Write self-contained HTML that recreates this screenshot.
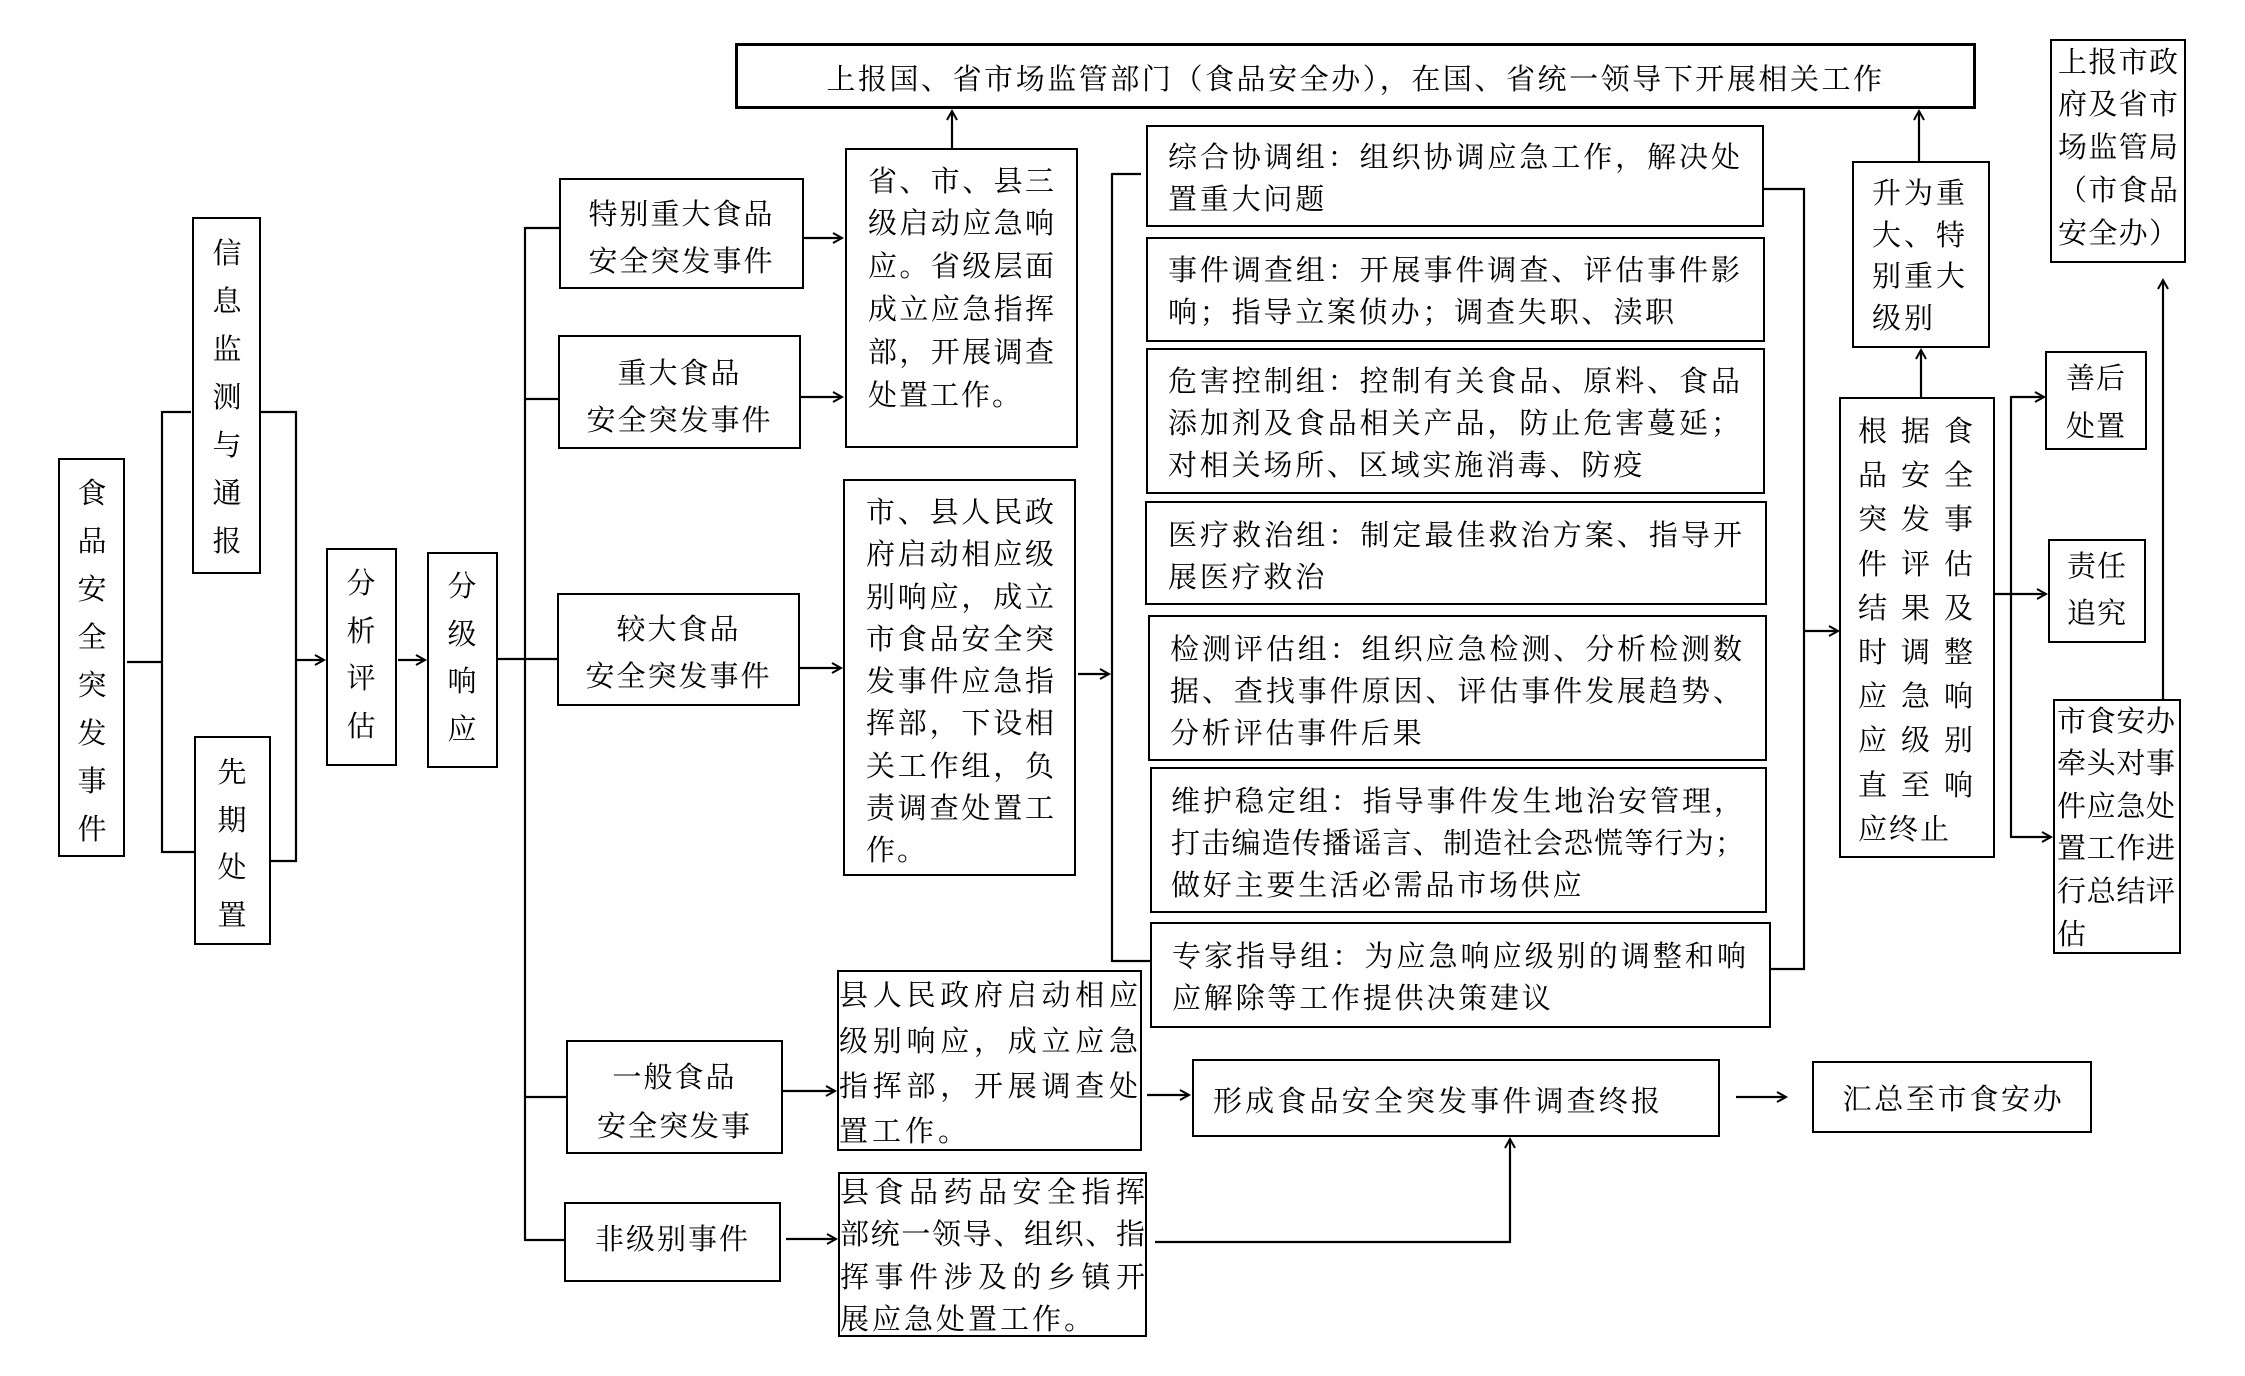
<!DOCTYPE html>
<html><head><meta charset="utf-8">
<style>
html,body{margin:0;padding:0;background:#fff;}
#c{position:relative;width:2245px;height:1376px;overflow:hidden;background:#fff;}
.b{position:absolute;box-sizing:border-box;border:2.5px solid #000;}
.t{position:absolute;font-family:"Liberation Serif","Noto Serif CJK SC","Noto Sans CJK SC",serif;font-size:29px;color:#000;white-space:nowrap;}
.t div{height:auto;}
.j{text-align:justify;text-align-last:justify;}
.v{text-align:center;width:44px;line-height:48px;}
.cn{text-align:center;}
svg{position:absolute;left:0;top:0;}
</style></head><body><div id="c">

<svg width="2245" height="1376" viewBox="0 0 2245 1376">
<defs>
<marker id="a" markerWidth="14" markerHeight="14" refX="11" refY="7" orient="auto" markerUnits="userSpaceOnUse">
<path d="M2,2 L11,7 L2,12" fill="none" stroke="#000" stroke-width="2"/>
</marker>
</defs>
<g stroke="#000" stroke-width="2.2" fill="none">
<line x1="127" y1="662" x2="162" y2="662"/>
<line x1="162" y1="411" x2="162" y2="853"/>
<line x1="162" y1="412" x2="191" y2="412"/>
<line x1="162" y1="852" x2="194" y2="852"/>
<line x1="261" y1="412" x2="297" y2="412"/>
<line x1="271" y1="861" x2="297" y2="861"/>
<line x1="296" y1="411" x2="296" y2="862"/>
<line x1="296" y1="660" x2="324" y2="660" marker-end="url(#a)"/>
<line x1="398" y1="660" x2="425" y2="660" marker-end="url(#a)"/>
<line x1="498" y1="659" x2="525" y2="659"/>
<line x1="525" y1="227" x2="525" y2="1241"/>
<line x1="525" y1="228" x2="559" y2="228"/>
<line x1="525" y1="399" x2="558" y2="399"/>
<line x1="525" y1="659" x2="557" y2="659"/>
<line x1="525" y1="1097" x2="566" y2="1097"/>
<line x1="525" y1="1240" x2="564" y2="1240"/>
<line x1="804" y1="238" x2="842" y2="238" marker-end="url(#a)"/>
<line x1="801" y1="397" x2="842" y2="397" marker-end="url(#a)"/>
<line x1="800" y1="668" x2="841" y2="668" marker-end="url(#a)"/>
<line x1="783" y1="1091" x2="835" y2="1091" marker-end="url(#a)"/>
<line x1="786" y1="1239" x2="836" y2="1239" marker-end="url(#a)"/>
<line x1="952" y1="148" x2="952" y2="111" marker-end="url(#a)"/>
<line x1="1078" y1="674" x2="1109" y2="674" marker-end="url(#a)"/>
<line x1="1112" y1="173" x2="1112" y2="962"/>
<line x1="1112" y1="174" x2="1141" y2="174"/>
<line x1="1112" y1="961" x2="1150" y2="961"/>
<line x1="1764" y1="189" x2="1805" y2="189"/>
<line x1="1804" y1="188" x2="1804" y2="970"/>
<line x1="1771" y1="969" x2="1805" y2="969"/>
<line x1="1804" y1="631" x2="1838" y2="631" marker-end="url(#a)"/>
<line x1="1921" y1="397" x2="1921" y2="350" marker-end="url(#a)"/>
<line x1="1919" y1="161" x2="1919" y2="111" marker-end="url(#a)"/>
<line x1="2011" y1="396" x2="2011" y2="838"/>
<line x1="2011" y1="397" x2="2044" y2="397" marker-end="url(#a)"/>
<line x1="1995" y1="594" x2="2046" y2="594" marker-end="url(#a)"/>
<line x1="2011" y1="837" x2="2051" y2="837" marker-end="url(#a)"/>
<line x1="2163" y1="699" x2="2163" y2="280" marker-end="url(#a)"/>
<line x1="1147" y1="1095" x2="1189" y2="1095" marker-end="url(#a)"/>
<line x1="1736" y1="1097" x2="1786" y2="1097" marker-end="url(#a)"/>
<line x1="1155" y1="1242" x2="1511" y2="1242"/>
<line x1="1510" y1="1243" x2="1510" y2="1139" marker-end="url(#a)"/>
</g>
</svg>

<!-- boxes -->
<div class="b" style="left:58px;top:458px;width:67px;height:399px;"></div>
<div class="b" style="left:192px;top:217px;width:69px;height:357px;"></div>
<div class="b" style="left:194px;top:736px;width:77px;height:209px;"></div>
<div class="b" style="left:326px;top:548px;width:71px;height:218px;"></div>
<div class="b" style="left:427px;top:552px;width:71px;height:216px;"></div>
<div class="b" style="left:559px;top:178px;width:245px;height:111px;"></div>
<div class="b" style="left:558px;top:335px;width:243px;height:114px;"></div>
<div class="b" style="left:557px;top:593px;width:243px;height:113px;"></div>
<div class="b" style="left:566px;top:1040px;width:217px;height:114px;"></div>
<div class="b" style="left:564px;top:1202px;width:217px;height:80px;"></div>
<div class="b" style="left:845px;top:148px;width:233px;height:300px;"></div>
<div class="b" style="left:843px;top:479px;width:233px;height:397px;"></div>
<div class="b" style="left:837px;top:970px;width:305px;height:181px;"></div>
<div class="b" style="left:838px;top:1172px;width:309px;height:165px;"></div>
<div class="b" style="left:735px;top:43px;width:1241px;height:66px;border-width:3px;"></div>
<div class="b" style="left:1146px;top:125px;width:618px;height:102px;"></div>
<div class="b" style="left:1146px;top:237px;width:619px;height:105px;"></div>
<div class="b" style="left:1146px;top:348px;width:619px;height:146px;"></div>
<div class="b" style="left:1145px;top:501px;width:622px;height:104px;"></div>
<div class="b" style="left:1148px;top:615px;width:619px;height:146px;"></div>
<div class="b" style="left:1150px;top:767px;width:617px;height:146px;"></div>
<div class="b" style="left:1150px;top:922px;width:621px;height:106px;"></div>
<div class="b" style="left:1192px;top:1059px;width:528px;height:78px;"></div>
<div class="b" style="left:1812px;top:1061px;width:280px;height:72px;"></div>
<div class="b" style="left:1852px;top:161px;width:138px;height:187px;"></div>
<div class="b" style="left:1839px;top:397px;width:156px;height:461px;"></div>
<div class="b" style="left:2050px;top:39px;width:136px;height:224px;"></div>
<div class="b" style="left:2045px;top:351px;width:102px;height:99px;"></div>
<div class="b" style="left:2048px;top:539px;width:98px;height:104px;"></div>
<div class="b" style="left:2053px;top:699px;width:128px;height:255px;"></div>

<!-- vertical texts -->
<div class="t v" style="left:70px;top:470px;">食<br>品<br>安<br>全<br>突<br>发<br>事<br>件</div>
<div class="t v" style="left:205px;top:230px;">信<br>息<br>监<br>测<br>与<br>通<br>报</div>
<div class="t v" style="left:210px;top:750px;line-height:47.7px;">先<br>期<br>处<br>置</div>
<div class="t v" style="left:339px;top:561px;line-height:47.7px;">分<br>析<br>评<br>估</div>
<div class="t v" style="left:440px;top:564px;line-height:47.7px;">分<br>级<br>响<br>应</div>

<!-- level boxes -->
<div class="t cn" style="left:559px;top:191.5px;width:245px;line-height:47px;letter-spacing:2px;">特别重大食品<br>安全突发事件</div>
<div class="t cn" style="left:558px;top:350.5px;width:243px;line-height:47px;letter-spacing:2px;">重大食品<br>安全突发事件</div>
<div class="t cn" style="left:557px;top:606.5px;width:243px;line-height:47px;letter-spacing:2px;">较大食品<br>安全突发事件</div>
<div class="t cn" style="left:566px;top:1053.5px;width:217px;line-height:49px;letter-spacing:2px;">一般食品<br>安全突发事</div>
<div class="t cn" style="left:564px;top:1216.5px;width:217px;line-height:47px;letter-spacing:2px;">非级别事件</div>

<!-- response boxes -->
<div class="t" style="left:868px;top:160.6px;width:186px;line-height:42.8px;">
<div class="j">省、市、县三</div>
<div class="j">级启动应急响</div>
<div class="j">应。省级层面</div>
<div class="j">成立应急指挥</div>
<div class="j">部，开展调查</div>
<div style="letter-spacing:2px;">处置工作。</div>
</div>
<div class="t" style="left:866px;top:492px;width:188px;line-height:42.3px;">
<div class="j">市、县人民政</div>
<div class="j">府启动相应级</div>
<div class="j">别响应，成立</div>
<div class="j">市食品安全突</div>
<div class="j">发事件应急指</div>
<div class="j">挥部，下设相</div>
<div class="j">关工作组，负</div>
<div class="j">责调查处置工</div>
<div style="letter-spacing:2px;">作。</div>
</div>
<div class="t" style="left:839px;top:974.4px;width:299px;line-height:45.3px;">
<div class="j">县人民政府启动相应</div>
<div class="j">级别响应，成立应急</div>
<div class="j">指挥部，开展调查处</div>
<div style="letter-spacing:4px;">置工作。</div>
</div>
<div class="t" style="left:840px;top:1172px;width:305px;line-height:42.3px;">
<div class="j">县食品药品安全指挥</div>
<div class="j">部统一领导、组织、指</div>
<div class="j">挥事件涉及的乡镇开</div>
<div style="letter-spacing:3px;">展应急处置工作。</div>
</div>

<!-- top box -->
<div class="t cn" style="left:735px;top:60px;width:1241px;line-height:40px;letter-spacing:2.55px;">上报国、省市场监管部门（食品安全办），在国、省统一领导下开展相关工作</div>

<!-- groups -->
<div class="t" style="left:1168px;top:136.85px;width:572px;line-height:42.3px;">
<div class="j">综合协调组：组织协调应急工作，解决处</div>
<div style="letter-spacing:2.8px;">置重大问题</div>
</div>
<div class="t" style="left:1168px;top:249.85px;width:572px;line-height:42.3px;">
<div class="j">事件调查组：开展事件调查、评估事件影</div>
<div style="letter-spacing:2.8px;">响；指导立案侦办；调查失职、渎职</div>
</div>
<div class="t" style="left:1168px;top:360.85px;width:572px;line-height:42.3px;">
<div class="j">危害控制组：控制有关食品、原料、食品</div>
<div class="j">添加剂及食品相关产品，防止危害蔓延；</div>
<div style="letter-spacing:2.8px;">对相关场所、区域实施消毒、防疫</div>
</div>
<div class="t" style="left:1168px;top:514.85px;width:574px;line-height:42.3px;">
<div class="j">医疗救治组：制定最佳救治方案、指导开</div>
<div style="letter-spacing:2.8px;">展医疗救治</div>
</div>
<div class="t" style="left:1170px;top:628.85px;width:572px;line-height:42.3px;">
<div class="j">检测评估组：组织应急检测、分析检测数</div>
<div class="j">据、查找事件原因、评估事件发展趋势、</div>
<div style="letter-spacing:2.8px;">分析评估事件后果</div>
</div>
<div class="t" style="left:1171px;top:780.85px;width:572px;line-height:42.3px;">
<div class="j">维护稳定组：指导事件发生地治安管理，</div>
<div class="j" style="letter-spacing:-1px;">打击编造传播谣言、制造社会恐慌等行为；</div>
<div style="letter-spacing:2.8px;">做好主要生活必需品市场供应</div>
</div>
<div class="t" style="left:1172px;top:935.85px;width:574px;line-height:42.3px;">
<div class="j">专家指导组：为应急响应级别的调整和响</div>
<div style="letter-spacing:2.8px;">应解除等工作提供决策建议</div>
</div>

<!-- bottom -->
<div class="t" style="left:1213px;top:1082px;line-height:40px;letter-spacing:3.15px;">形成食品安全突发事件调查终报</div>
<div class="t cn" style="left:1812px;top:1080px;width:283px;line-height:40px;letter-spacing:2.7px;">汇总至市食安办</div>

<!-- right column -->
<div class="t" style="left:1872px;top:174px;width:93px;line-height:41.7px;">
<div class="j">升为重</div>
<div class="j">大、特</div>
<div class="j">别重大</div>
<div style="letter-spacing:3px;">级别</div>
</div>
<div class="t" style="left:1858px;top:409.9px;width:115px;line-height:44.2px;">
<div class="j">根据食</div>
<div class="j">品安全</div>
<div class="j">突发事</div>
<div class="j">件评估</div>
<div class="j">结果及</div>
<div class="j">时调整</div>
<div class="j">应急响</div>
<div class="j">应级别</div>
<div class="j">直至响</div>
<div style="letter-spacing:2px;">应终止</div>
</div>
<div class="t" style="left:2058px;top:41.6px;width:120px;line-height:42.8px;">
<div class="j">上报市政</div>
<div class="j">府及省市</div>
<div class="j">场监管局</div>
<div class="j">（市食品</div>
<div class="j">安全办）</div>
</div>
<div class="t cn" style="left:2045px;top:355px;width:102px;line-height:48px;letter-spacing:1px;">善后<br>处置</div>
<div class="t cn" style="left:2048px;top:543.75px;width:98px;line-height:47.5px;letter-spacing:1px;">责任<br>追究</div>
<div class="t" style="left:2057px;top:700.7px;width:118px;line-height:42.6px;">
<div class="j">市食安办</div>
<div class="j">牵头对事</div>
<div class="j">件应急处</div>
<div class="j">置工作进</div>
<div class="j">行总结评</div>
<div>估</div>
</div>

</div></body></html>
